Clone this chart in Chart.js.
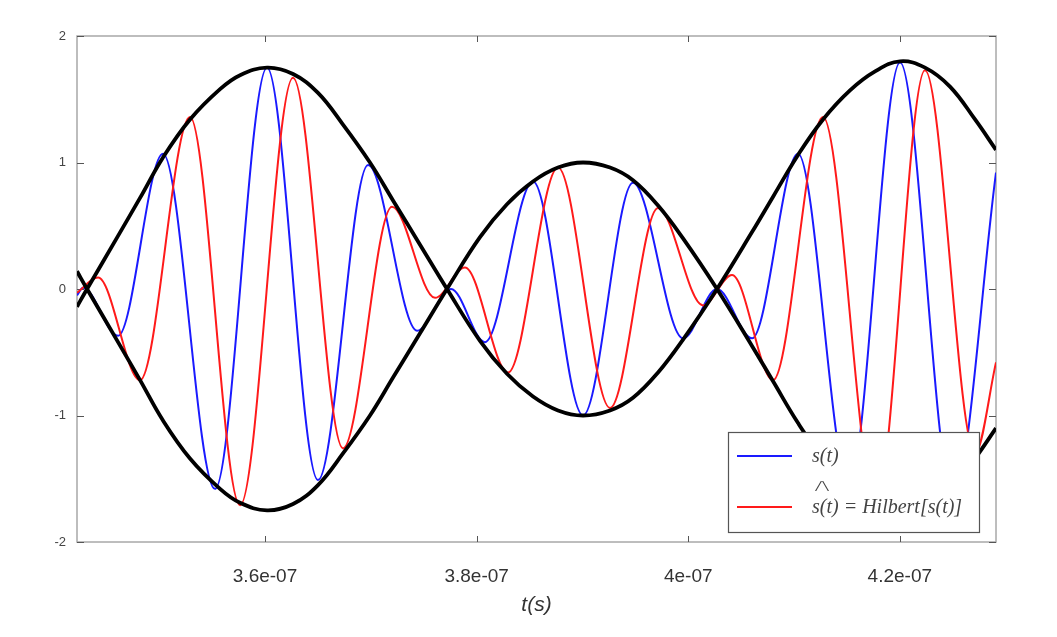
<!DOCTYPE html>
<html>
<head>
<meta charset="utf-8">
<title>s(t) and Hilbert transform</title>
<script src="https://cdn.jsdelivr.net/npm/chart.js@4.4.1/dist/chart.umd.min.js"></script>
<style>
  body { margin: 0; background: #fff; }
  #wrap { width: 1057px; height: 637px; }
</style>
</head>
<body>
<div id="wrap"><canvas id="myChart" width="1057" height="637"></canvas></div>
<script>
// values (time in seconds)
const xMin = 3.4223e-7;
const xMax = 4.2909e-7;
const xTickValues = [3.6e-7, 3.8e-7, 4.0e-7, 4.2e-7];
const xTickLabels = ['3.6e-07', '3.8e-07', '4e-07', '4.2e-07'];
const yTickValues = [-2, -1, 0, 1, 2];
const yTickLabels = ['-2', '-1', '0', '1', '2'];

// s(t), blue
const blueT = [3.4223e-7, 3.4280e-7, 3.4611e-7, 3.5036e-7, 3.5527e-7, 3.6019e-7, 3.6501e-7, 3.6974e-7,
  3.7437e-7, 3.7758e-7, 3.8079e-7, 3.8533e-7, 3.9006e-7, 3.9478e-7, 3.9951e-7, 4.0272e-7,
  4.0603e-7, 4.1038e-7, 4.1520e-7, 4.2002e-7, 4.2503e-7, 4.2909e-7];
const blueS = [-0.05, 0.01, -0.37, 1.07, -1.58, 1.75, -1.51, 0.98,
  -0.33, 0.0, -0.42, 0.85, -1.0, 0.84, -0.39, 0.0,
  -0.39, 1.07, -1.55, 1.79, -1.65, 0.92];

// Hilbert[s(t)], red
const redT = [3.4223e-7, 3.4422e-7, 3.4819e-7, 3.5291e-7, 3.5764e-7, 3.6265e-7, 3.6737e-7, 3.7200e-7,
  3.7607e-7, 3.7890e-7, 3.8297e-7, 3.8769e-7, 3.9261e-7, 3.9715e-7, 4.0140e-7, 4.0414e-7,
  4.0802e-7, 4.1274e-7, 4.1775e-7, 4.2238e-7, 4.2711e-7, 4.2909e-7];
const redH = [-0.03, 0.09, -0.72, 1.36, -1.71, 1.67, -1.26, 0.65,
  -0.07, 0.17, -0.66, 0.96, -0.94, 0.64, -0.13, 0.11,
  -0.72, 1.36, -1.70, 1.73, -1.30, -0.58];

// envelope, black (two mirrored curves)
const envT = [3.4223e-7, 3.4318e-7, 3.4611e-7, 3.4819e-7, 3.5036e-7, 3.5291e-7, 3.5575e-7, 3.5764e-7,
  3.6019e-7, 3.6265e-7, 3.6501e-7, 3.6737e-7, 3.6992e-7, 3.7210e-7, 3.7465e-7, 3.7720e-7,
  3.8032e-7, 3.8287e-7, 3.8533e-7, 3.8769e-7, 3.9006e-7, 3.9261e-7, 3.9478e-7, 3.9715e-7,
  3.9951e-7, 4.0272e-7, 4.0603e-7, 4.0802e-7, 4.1038e-7, 4.1274e-7, 4.1529e-7, 4.1766e-7,
  4.2002e-7, 4.2238e-7, 4.2474e-7, 4.2711e-7, 4.2909e-7];
const envUp = [-0.14, 0, 0.42, 0.72, 1.04, 1.34, 1.58, 1.69,
  1.75, 1.70, 1.55, 1.30, 1.0, 0.70, 0.35, 0,
  -0.41, -0.67, -0.85, -0.96, -1.0, -0.96, -0.86, -0.66,
  -0.40, 0, 0.45, 0.73, 1.06, 1.34, 1.57, 1.72,
  1.80, 1.75, 1.60, 1.34, 1.10];
const envDown = [0.14, 0, -0.42, -0.72, -1.04, -1.34, -1.58, -1.69,
  -1.75, -1.70, -1.55, -1.30, -1.0, -0.70, -0.35, 0,
  0.41, 0.67, 0.85, 0.96, 1.0, 0.96, 0.86, 0.66,
  0.40, 0, -0.45, -0.73, -1.06, -1.34, -1.57, -1.72,
  -1.80, -1.75, -1.60, -1.34, -1.10];

function pts(xs, ys) {
  return xs.map((x, i) => ({ x: x, y: ys[i] }));
}

// frame with inward tick marks
const framePlugin = {
  id: 'frame',
  beforeDatasetsDraw(chart) {
    const ctx = chart.ctx;
    const a = chart.chartArea;
    const xs = chart.scales.x, ys = chart.scales.y;
    ctx.save();
    ctx.strokeStyle = '#a8a8a8';
    ctx.lineWidth = 1.5;
    ctx.strokeRect(a.left, a.top, a.right - a.left, a.bottom - a.top);
    ctx.strokeStyle = '#555';
    ctx.lineWidth = 1;
    ctx.beginPath();
    xTickValues.forEach(v => {
      const px = Math.round(xs.getPixelForValue(v)) + 0.5;
      ctx.moveTo(px, a.bottom); ctx.lineTo(px, a.bottom - 6);
      ctx.moveTo(px, a.top); ctx.lineTo(px, a.top + 6);
    });
    yTickValues.forEach(v => {
      const py = Math.round(ys.getPixelForValue(v)) + 0.5;
      ctx.moveTo(a.left, py); ctx.lineTo(a.left + 7, py);
      ctx.moveTo(a.right, py); ctx.lineTo(a.right - 7, py);
    });
    ctx.stroke();
    ctx.restore();
  }
};

// boxed legend inside the plot, lower right
const legendPlugin = {
  id: 'boxLegend',
  afterDraw(chart) {
    const ctx = chart.ctx;
    const a = chart.chartArea;
    const items = chart.data.datasets.filter(d => d.inLegend);
    const bx = a.right - 268, by = a.bottom - 110, bw = 251, bh = 100;
    ctx.save();
    ctx.fillStyle = '#fff';
    ctx.fillRect(bx, by, bw, bh);
    ctx.strokeStyle = '#555';
    ctx.lineWidth = 1.2;
    ctx.strokeRect(bx + 0.5, by + 0.5, bw, bh);
    items.forEach((d, i) => {
      const y = by + 24 + i * 51;
      ctx.strokeStyle = d.borderColor;
      ctx.lineWidth = 2.2;
      ctx.beginPath();
      ctx.moveTo(bx + 9, y); ctx.lineTo(bx + 64, y);
      ctx.stroke();
      ctx.fillStyle = '#444';
      ctx.font = 'italic 20px "Liberation Serif", serif';
      ctx.textBaseline = 'middle';
      ctx.textAlign = 'left';
      ctx.fillText(d.label, bx + 84, y + 1);
      if (d.hat) {
        // the hat over the first s, squashed like the original
        ctx.save();
        ctx.translate(bx + 87, y - 20);
        ctx.scale(1.4, 0.85);
        ctx.font = '18px "Liberation Serif", serif';
        ctx.fillText(d.hat, 0, 0);
        ctx.restore();
      }
    });
    ctx.restore();
  }
};

const ctx = document.getElementById('myChart').getContext('2d');
const chart = new Chart(ctx, {
  type: 'line',
  data: {
    datasets: [
      {
        label: 'envelope',
        data: pts(envT, envUp),
        borderColor: '#000',
        borderWidth: 3.8,
        tension: 0.4,
        order: 0
      },
      {
        label: 'envelope -',
        data: pts(envT, envDown),
        borderColor: '#000',
        borderWidth: 3.8,
        tension: 0.4,
        order: 0
      },
      {
        label: 's(t)',
        inLegend: true,
        data: pts(blueT, blueS),
        borderColor: '#1a1aff',
        borderWidth: 2,
        cubicInterpolationMode: 'monotone',
        order: 2
      },
      {
        label: 's(t) = Hilbert[s(t)]',
        hat: '/\\',
        inLegend: true,
        data: pts(redT, redH),
        borderColor: '#ff1a1a',
        borderWidth: 2,
        cubicInterpolationMode: 'monotone',
        order: 1
      }
    ]
  },
  options: {
    responsive: false,
    animation: false,
    parsing: false,
    elements: {
      point: { radius: 0 },
      line: { fill: false }
    },
    layout: { padding: { top: 36, right: 61, left: 0, bottom: 0 } },
    plugins: {
      legend: { display: false },
      tooltip: { enabled: false }
    },
    scales: {
      x: {
        type: 'linear',
        min: xMin,
        max: xMax,
        grid: { display: false, drawTicks: false },
        border: { display: false },
        afterBuildTicks: s => { s.ticks = xTickValues.map(v => ({ value: v })); },
        afterFit: s => { s.height = 95; },
        ticks: {
          padding: 23,
          color: '#333',
          font: { family: '"Liberation Sans", Arial, sans-serif', size: 19 },
          callback: (v, i) => xTickLabels[i]
        },
        title: {
          display: true,
          text: 't(s)',
          color: '#333',
          padding: { top: 4, bottom: 19 },
          font: { family: '"Liberation Sans", Arial, sans-serif', size: 21, style: 'italic' }
        }
      },
      y: {
        type: 'linear',
        min: -2,
        max: 2,
        grid: { display: false, drawTicks: false },
        border: { display: false },
        afterBuildTicks: s => { s.ticks = yTickValues.map(v => ({ value: v })); },
        afterFit: s => { s.width = 77; },
        ticks: {
          padding: 11,
          color: '#444',
          font: { family: '"Liberation Sans", Arial, sans-serif', size: 13 },
          callback: (v, i) => yTickLabels[i]
        }
      }
    }
  },
  plugins: [framePlugin, legendPlugin]
});
</script>
</body>
</html>
